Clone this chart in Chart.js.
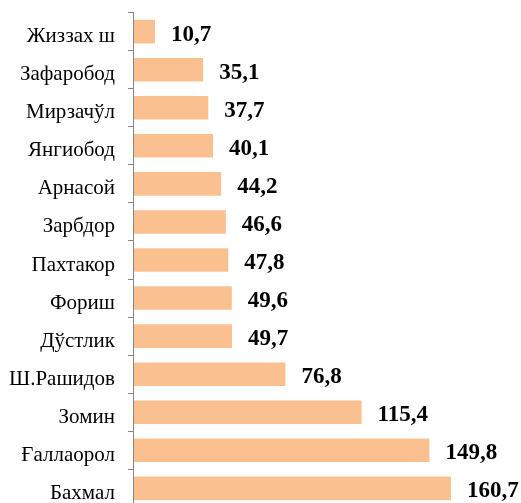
<!DOCTYPE html>
<html>
<head>
<meta charset="utf-8">
<script src="https://cdn.jsdelivr.net/npm/chart.js@4"></script>
<style>
  html, body { margin: 0; padding: 0; background: #fff; overflow: hidden; width: 521px; height: 503px; }
  #wrap { width: 521px; height: 546px; position: relative; margin-top: -13px; }
</style>
</head>
<body>
<div id="wrap"><canvas id="c"></canvas></div>
<script>
const categories = ["Жиззах ш", "Зафаробод", "Мирзачўл", "Янгиобод", "Арнасой", "Зарбдор", "Пахтакор", "Фориш", "Дўстлик", "Ш.Рашидов", "Зомин", "Ғаллаорол", "Бахмал"];
const values = [10.7, 35.1, 37.7, 40.1, 44.2, 46.6, 47.8, 49.6, 49.7, 76.8, 115.4, 149.8, 160.7];
const valueLabels = ["10,7", "35,1", "37,7", "40,1", "44,2", "46,6", "47,8", "49,6", "49,7", "76,8", "115,4", "149,8", "160,7"];

const labelPlugin = {
  id: 'barLabels',
  afterDatasetsDraw(chart) {
    const ctx = chart.ctx;
    const meta = chart.getDatasetMeta(0);
    ctx.save();
    ctx.font = 'bold 23px "Liberation Serif", serif';
    ctx.fillStyle = '#000';
    ctx.textAlign = 'left';
    ctx.textBaseline = 'middle';
    meta.data.forEach((bar, i) => {
      ctx.fillText(valueLabels[i], bar.x + 16, bar.y + 3);
    });
    ctx.restore();
  }
};

new Chart(document.getElementById('c'), {
  type: 'bar',
  data: {
    labels: categories,
    datasets: [{
      data: values,
      backgroundColor: '#FAC090',
      borderWidth: 0,
      barPercentage: 0.62,
      categoryPercentage: 1.0
    }]
  },
  options: {
    indexAxis: 'y',
    responsive: true,
    maintainAspectRatio: false,
    animation: false,
    layout: { padding: { top: 6, right: 32, bottom: 0, left: -4 } },
    plugins: { legend: { display: false }, tooltip: { enabled: false } },
    scales: {
      x: {
        display: false,
        min: 0,
        max: 180
      },
      y: {
        grid: {
          display: true,
          drawOnChartArea: false,
          drawTicks: true,
          tickLength: 6,
          color: '#868686',
          offset: true
        },
        border: { display: true, color: '#868686', width: 1 },
        ticks: {
          color: '#000',
          padding: 13,
          labelOffset: 5,
          font: { family: '"Liberation Serif", serif', size: 21 }
        }
      }
    }
  },
  plugins: [labelPlugin]
});
</script>
</body>
</html>
